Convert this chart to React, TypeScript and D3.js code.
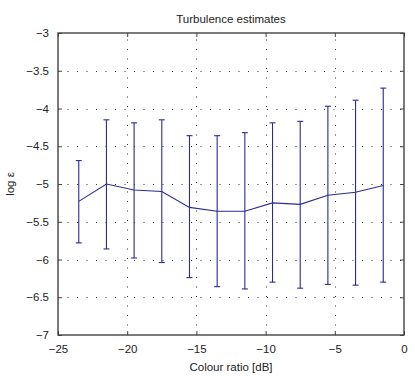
import React, { useEffect, useRef } from "react";
import * as d3 from "d3";

// colour ratio bins [dB]
const colourRatio = [-23.5, -21.5, -19.5, -17.5, -15.5, -13.5, -11.5, -9.5, -7.5, -5.5, -3.5, -1.5];
// mean log epsilon
const logEps = [-5.23, -5.0, -5.08, -5.1, -5.31, -5.36, -5.36, -5.25, -5.27, -5.15, -5.11, -5.02];
// upper / lower ends of the error bars
const upper = [-4.69, -4.15, -4.19, -4.15, -4.36, -4.36, -4.32, -4.19, -4.17, -3.97, -3.89, -3.73];
const lower = [-5.78, -5.86, -5.98, -6.04, -6.24, -6.36, -6.39, -6.3, -6.38, -6.33, -6.34, -6.3];

const xTicks = [-25, -20, -15, -10, -5, 0];
const yTicks = [-7, -6.5, -6, -5.5, -5, -4.5, -4, -3.5, -3];

const W = 415;
const H = 376;
const margin = { left: 58, right: 11, top: 33, bottom: 41 };
const BLUE = "#2b2b94";
const FONT = "'Liberation Sans', Arial, sans-serif";

const fmt = (v: number) => String(v).replace("-", "\u2212");

const App = () => {
  const svgRef = useRef<SVGSVGElement>(null);

  useEffect(() => {
    const svg = d3.select(svgRef.current);
    svg.selectAll("*").remove();

    const x = d3.scaleLinear().domain([-25, 0]).range([margin.left, W - margin.right]);
    const y = d3.scaleLinear().domain([-7, -3]).range([H - margin.bottom, margin.top]);
    const [x0, x1] = x.range();
    const [y0, y1] = y.range();

    svg.append("rect").attr("width", W).attr("height", H).attr("fill", "#fff");

    // dotted grid
    const grid = svg.append("g").attr("stroke", "#333").attr("stroke-width", 1).attr("stroke-dasharray", "1,8.5");
    grid.selectAll(".gx")
      .data(xTicks.slice(1, -1))
      .join("line")
      .attr("x1", (d) => Math.round(x(d)) + 0.5)
      .attr("x2", (d) => Math.round(x(d)) + 0.5)
      .attr("y1", y0)
      .attr("y2", y1);
    grid.selectAll(".gy")
      .data(yTicks.slice(1, -1))
      .join("line")
      .attr("y1", (d) => Math.round(y(d)) + 0.5)
      .attr("y2", (d) => Math.round(y(d)) + 0.5)
      .attr("x1", x0)
      .attr("x2", x1);

    // axes: MATLAB style, ticks inside on all four sides
    const axisStyle = (g: any) => {
      g.select(".domain").remove();
      g.selectAll(".tick line").attr("stroke", "#444").attr("stroke-width", 1);
      g.selectAll("text").attr("font-family", FONT).attr("font-size", 11.5).attr("fill", "#222");
    };
    svg.append("g")
      .attr("transform", `translate(0,${y0})`)
      .call(d3.axisBottom(x).tickValues(xTicks).tickFormat((d: any) => fmt(d)).tickSizeInner(-4).tickPadding(10))
      .call(axisStyle);
    svg.append("g")
      .attr("transform", `translate(0,${y1})`)
      .call(d3.axisTop(x).tickValues(xTicks).tickFormat(() => "").tickSizeInner(-4))
      .call(axisStyle);
    svg.append("g")
      .attr("transform", `translate(${x0},0)`)
      .call(d3.axisLeft(y).tickValues(yTicks).tickFormat((d: any) => fmt(d)).tickSizeInner(-4).tickPadding(9))
      .call(axisStyle);
    svg.append("g")
      .attr("transform", `translate(${x1},0)`)
      .call(d3.axisRight(y).tickValues(yTicks).tickFormat(() => "").tickSizeInner(-4))
      .call(axisStyle);

    svg.append("rect")
      .attr("x", x0).attr("y", y1)
      .attr("width", x1 - x0).attr("height", y0 - y1)
      .attr("fill", "none").attr("stroke", "#444").attr("stroke-width", 1.4);

    // error bars
    const bars = svg.append("g").attr("stroke", BLUE).attr("stroke-width", 1.1).attr("fill", "none");
    colourRatio.forEach((c, i) => {
      const cx = x(c);
      bars.append("line").attr("x1", cx).attr("x2", cx).attr("y1", y(upper[i])).attr("y2", y(lower[i]));
      bars.append("line").attr("x1", cx - 3).attr("x2", cx + 3).attr("y1", y(upper[i])).attr("y2", y(upper[i]));
      bars.append("line").attr("x1", cx - 3).attr("x2", cx + 3).attr("y1", y(lower[i])).attr("y2", y(lower[i]));
    });

    const line = d3.line<number>().x((d, i) => x(colourRatio[i])).y((d) => y(d));
    svg.append("path")
      .attr("d", line(logEps))
      .attr("fill", "none")
      .attr("stroke", BLUE)
      .attr("stroke-width", 1.1);

    // labels
    svg.append("text")
      .attr("x", (x0 + x1) / 2).attr("y", 23)
      .attr("text-anchor", "middle")
      .attr("font-family", FONT).attr("font-size", 11.5).attr("fill", "#222")
      .text("Turbulence estimates");
    svg.append("text")
      .attr("x", (x0 + x1) / 2).attr("y", 371)
      .attr("text-anchor", "middle")
      .attr("font-family", FONT).attr("font-size", 11.5).attr("fill", "#222")
      .text("Colour ratio [dB]");
    svg.append("text")
      .attr("transform", `translate(14,${(y0 + y1) / 2}) rotate(-90)`)
      .attr("text-anchor", "middle")
      .attr("font-family", FONT).attr("font-size", 11.5).attr("fill", "#222")
      .text("log \u03b5");
  }, []);

  return (
    <svg
      ref={svgRef}
      width={W}
      height={H}
      style={{ position: "absolute", left: 0, top: 0, display: "block" }}
    />
  );
};

export default App;
